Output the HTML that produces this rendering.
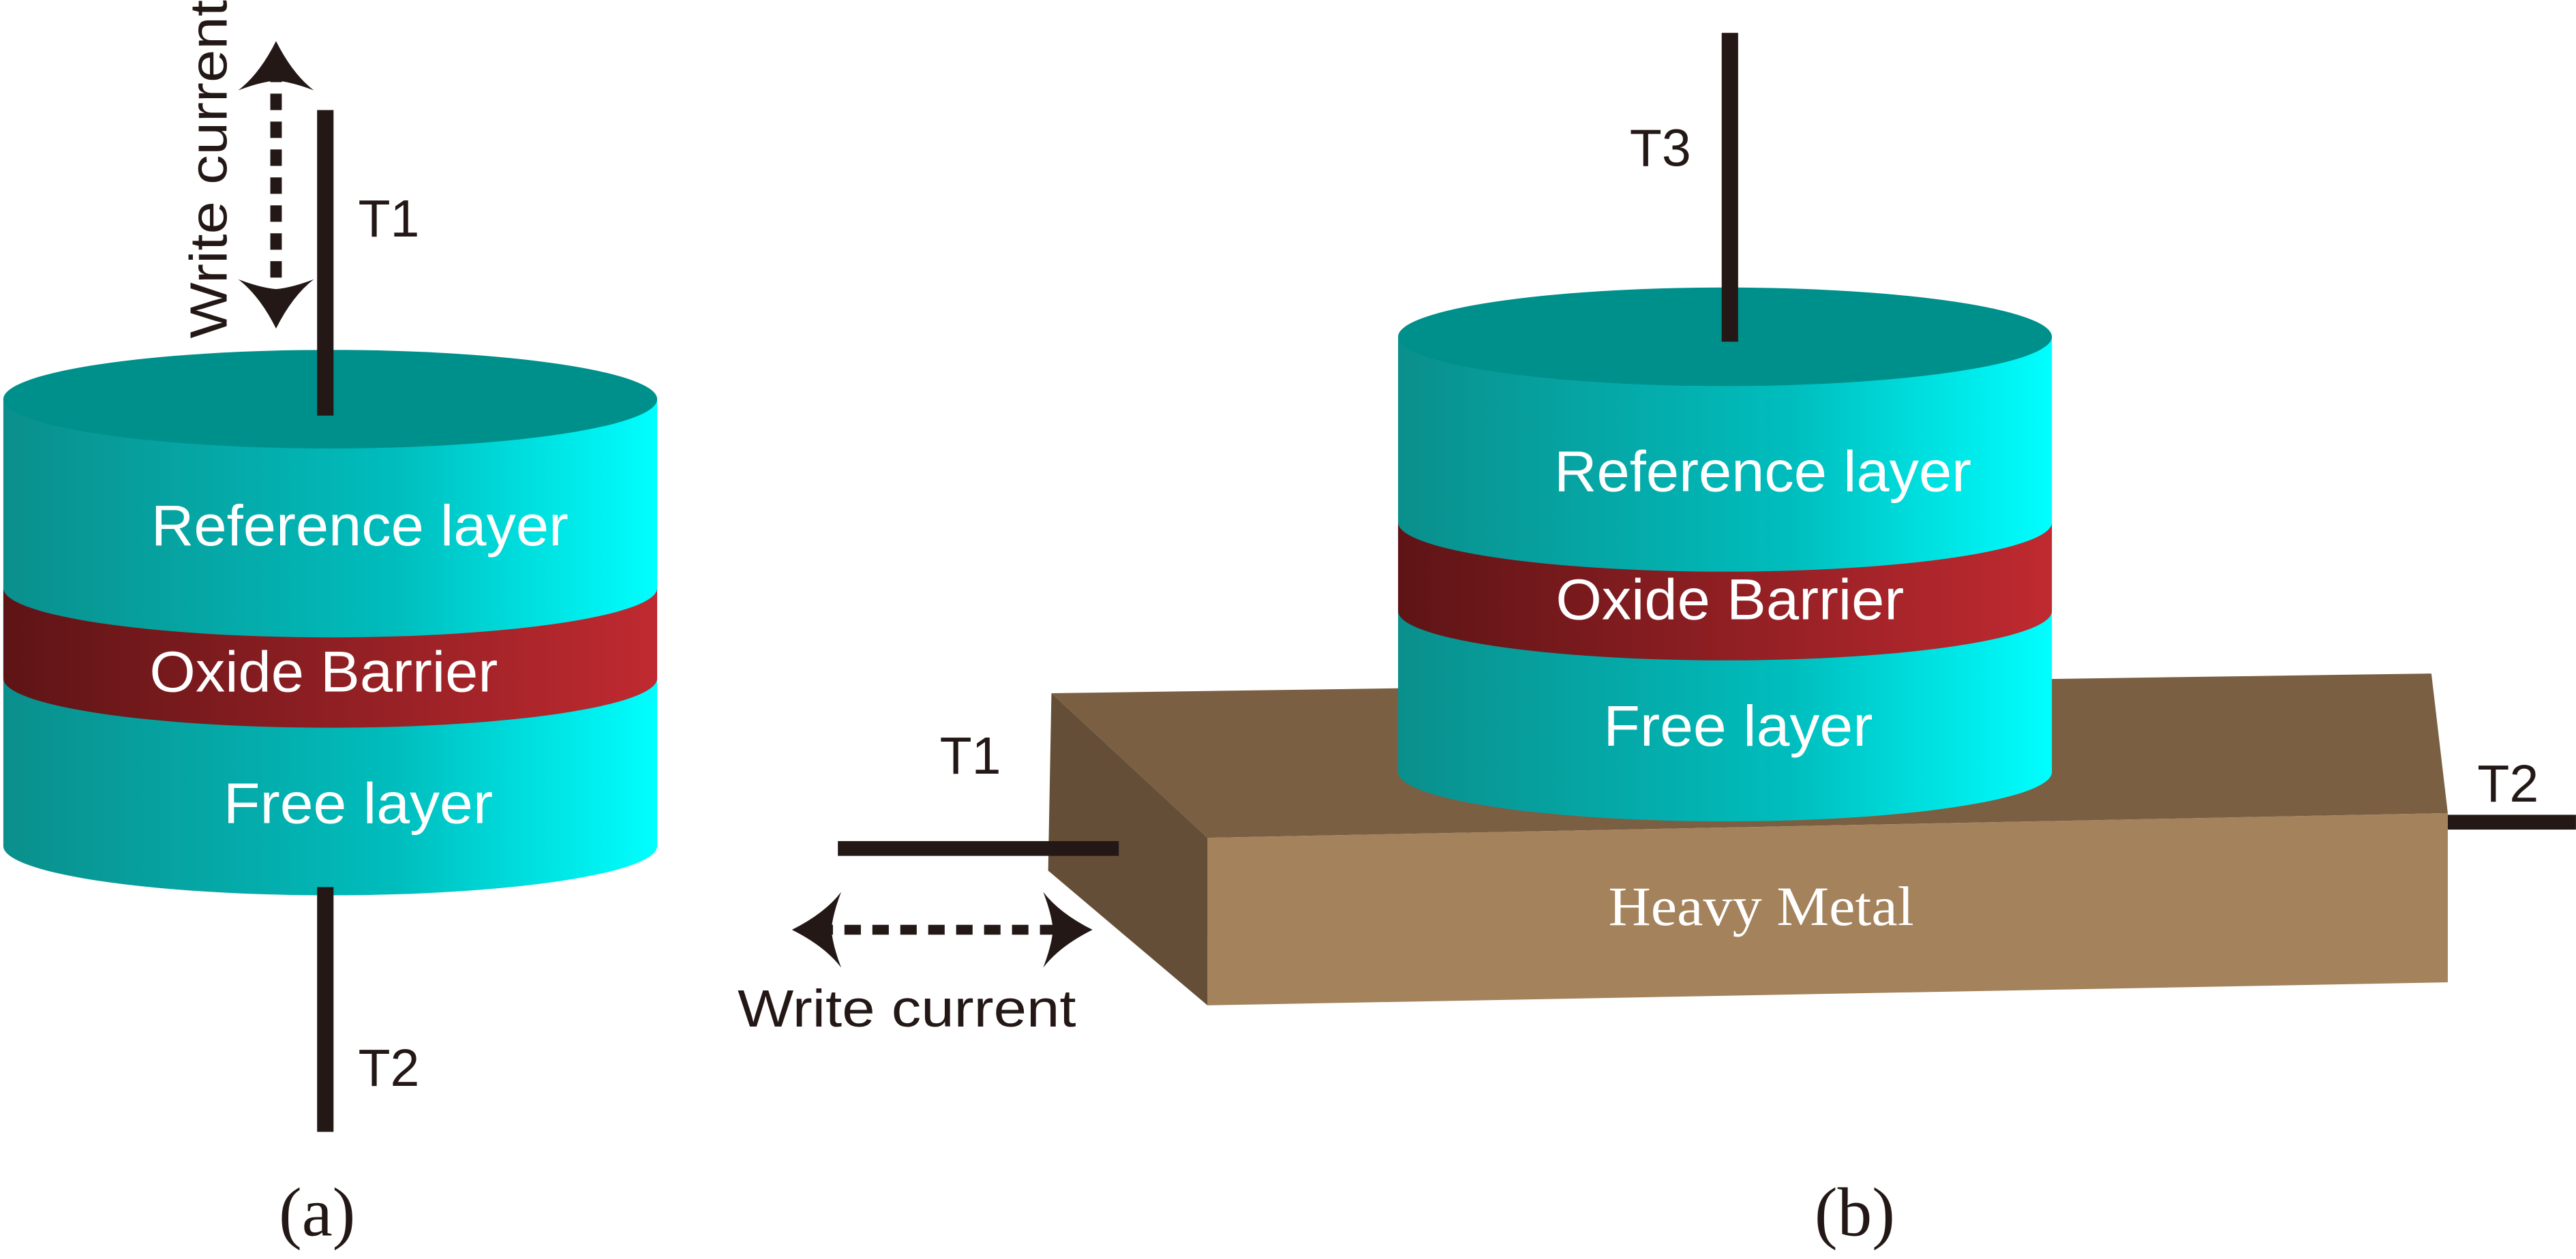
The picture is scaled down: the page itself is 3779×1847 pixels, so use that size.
<!DOCTYPE html>
<html><head><meta charset="utf-8"><style>html,body{margin:0;padding:0;background:#fff}svg{display:block}</style></head>
<body>
<svg width="3779" height="1847" viewBox="0 0 1568 766.4" xmlns="http://www.w3.org/2000/svg">
<defs>
<linearGradient id="cy" x1="0" x2="1" y1="0" y2="0"><stop offset="0" stop-color="#0a8f8c"/><stop offset="0.6" stop-color="#00bdbd"/><stop offset="1" stop-color="#00ffff"/></linearGradient>
<linearGradient id="rd" x1="0" x2="1" y1="0" y2="0"><stop offset="0" stop-color="#5e1416"/><stop offset="1" stop-color="#bf2a30"/></linearGradient>
</defs>
<g font-family="Liberation Sans, sans-serif" fill="#fff" font-size="35" text-anchor="middle">
<!-- (a) cylinder -->
<path d="M2,243 L2,515 A199,30 0 0 0 400,515 L400,243 Z" fill="url(#cy)"/>
<path d="M2,358 A199,30 0 0 0 400,358 L400,413 A199,30 0 0 1 2,413 Z" fill="url(#rd)"/>
<ellipse cx="201" cy="243" rx="199" ry="30" fill="#00908c"/>
<text x="219" y="332" textLength="254" lengthAdjust="spacingAndGlyphs">Reference layer</text>
<text x="197" y="421" textLength="212" lengthAdjust="spacingAndGlyphs">Oxide Barrier</text>
<text x="218" y="501" textLength="164" lengthAdjust="spacingAndGlyphs">Free layer</text>
<!-- (b) slab -->
<polygon points="640,422 1480,410 1490,495 735,510" fill="#7a5f42"/>
<polygon points="640,422 735,510 735,612 638,530" fill="#654e37"/>
<polygon points="735,510 1490,495 1490,598 735,612" fill="#a4825c"/>
<text x="1072" y="563" font-family="Liberation Serif, serif" font-size="34" fill="#fff" textLength="186" lengthAdjust="spacingAndGlyphs">Heavy Metal</text>
<!-- (b) cylinder -->
<path d="M851,205 L851,470 A199,30 0 0 0 1249,470 L1249,205 Z" fill="url(#cy)"/>
<path d="M851,318 A199,30 0 0 0 1249,318 L1249,372 A199,30 0 0 1 851,372 Z" fill="url(#rd)"/>
<ellipse cx="1050" cy="205" rx="199" ry="30" fill="#00908c"/>
<text x="1073" y="299" textLength="254" lengthAdjust="spacingAndGlyphs">Reference layer</text>
<text x="1053" y="377" textLength="212" lengthAdjust="spacingAndGlyphs">Oxide Barrier</text>
<text x="1058" y="454" textLength="164" lengthAdjust="spacingAndGlyphs">Free layer</text>
</g>
<g fill="#231815" stroke="none">
<rect x="193" y="67" width="10" height="186"/>
<rect x="193" y="540" width="10" height="149"/>
<rect x="1048" y="20" width="10" height="188"/>
<rect x="510" y="512" width="171" height="9"/>
<rect x="1490" y="496" width="78" height="9"/>
</g>
<line x1="168" y1="40" x2="168" y2="185" stroke="#231815" stroke-width="7" stroke-dasharray="10,7"/>
<path d="M168,25 Q158,45 145,55 Q158,50 168,49 Q178,50 191,55 Q178,45 168,25 Z" fill="#231815"/>
<path d="M168,200 Q158,180 145,170 Q158,175 168,176 Q178,175 191,170 Q178,180 168,200 Z" fill="#231815"/>
<line x1="497" y1="566" x2="650" y2="566" stroke="#231815" stroke-width="6" stroke-dasharray="10,7"/>
<path d="M482,566 Q502,556 512,543 Q507,556 506,566 Q507,576 512,589 Q502,576 482,566 Z" fill="#231815"/>
<path d="M665,566 Q645,556 635,543 Q640,556 641,566 Q640,576 635,589 Q645,576 665,566 Z" fill="#231815"/>
<g font-family="Liberation Sans, sans-serif" fill="#231815" font-size="32">
<text x="218" y="144">T1</text>
<text x="218" y="661">T2</text>
<text x="992" y="101">T3</text>
<text x="572" y="471">T1</text>
<text x="1508" y="488">T2</text>
<text x="449" y="625" textLength="206" lengthAdjust="spacingAndGlyphs">Write current</text>
<text transform="translate(138,103) rotate(-90)" text-anchor="middle" textLength="206" lengthAdjust="spacingAndGlyphs">Write current</text>
</g>
<g font-family="Liberation Serif, serif" fill="#231815" font-size="42" text-anchor="middle">
<text x="193" y="752">(a)</text>
<text x="1129" y="752">(b)</text>
</g>
</svg>
</body></html>
